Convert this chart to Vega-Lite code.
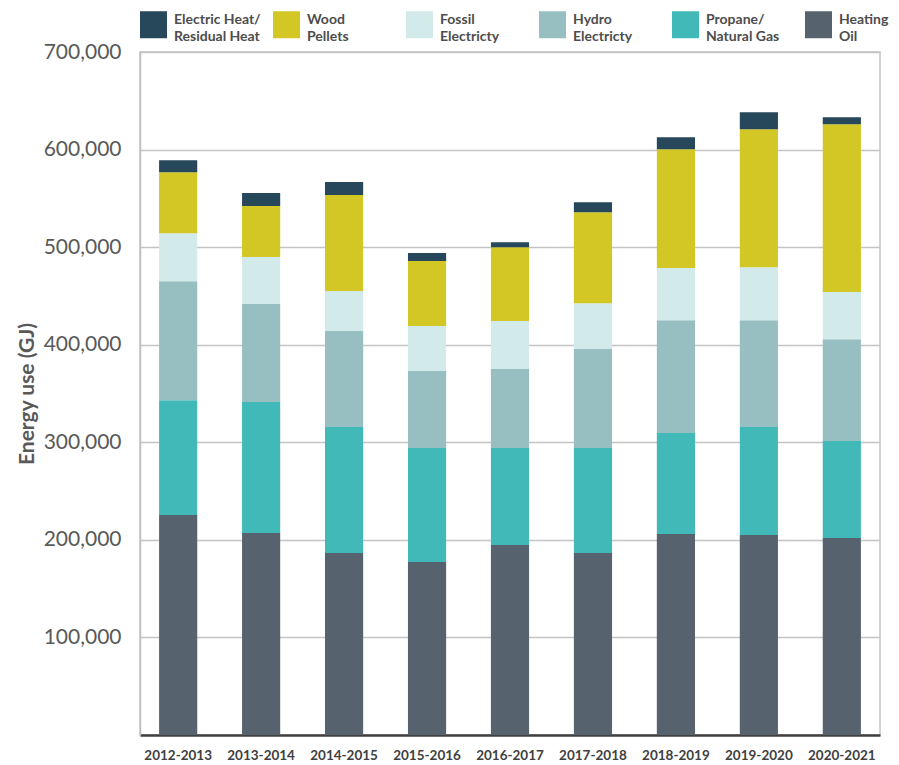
{
  "$schema": "https://vega.github.io/schema/vega-lite/v6.json",
  "width": 740,
  "height": 683,
  "autosize": {"type": "none"},
  "padding": {"left": 140, "top": 52, "right": 19, "bottom": 30},
  "background": "white",
  "config": {"font": "Lato", "view": {"stroke": "#c4c4c4", "strokeWidth": 1.5}},
  "data": {"values": [
    {"year": "2012-2013", "source": "Heating Oil", "value": 225400},
    {"year": "2012-2013", "source": "Propane/Natural Gas", "value": 117800},
    {"year": "2012-2013", "source": "Hydro Electricty", "value": 121900},
    {"year": "2012-2013", "source": "Fossil Electricty", "value": 49200},
    {"year": "2012-2013", "source": "Wood Pellets", "value": 62500},
    {"year": "2012-2013", "source": "Electric Heat/Residual Heat", "value": 12300},
    {"year": "2013-2014", "source": "Heating Oil", "value": 207000},
    {"year": "2013-2014", "source": "Propane/Natural Gas", "value": 134200},
    {"year": "2013-2014", "source": "Hydro Electricty", "value": 100400},
    {"year": "2013-2014", "source": "Fossil Electricty", "value": 48200},
    {"year": "2013-2014", "source": "Wood Pellets", "value": 52300},
    {"year": "2013-2014", "source": "Electric Heat/Residual Heat", "value": 13300},
    {"year": "2014-2015", "source": "Heating Oil", "value": 186500},
    {"year": "2014-2015", "source": "Propane/Natural Gas", "value": 129100},
    {"year": "2014-2015", "source": "Hydro Electricty", "value": 98400},
    {"year": "2014-2015", "source": "Fossil Electricty", "value": 41000},
    {"year": "2014-2015", "source": "Wood Pellets", "value": 98400},
    {"year": "2014-2015", "source": "Electric Heat/Residual Heat", "value": 13300},
    {"year": "2015-2016", "source": "Heating Oil", "value": 177300},
    {"year": "2015-2016", "source": "Propane/Natural Gas", "value": 116800},
    {"year": "2015-2016", "source": "Hydro Electricty", "value": 78900},
    {"year": "2015-2016", "source": "Fossil Electricty", "value": 46100},
    {"year": "2015-2016", "source": "Wood Pellets", "value": 66600},
    {"year": "2015-2016", "source": "Electric Heat/Residual Heat", "value": 8200},
    {"year": "2016-2017", "source": "Heating Oil", "value": 194700},
    {"year": "2016-2017", "source": "Propane/Natural Gas", "value": 99400},
    {"year": "2016-2017", "source": "Hydro Electricty", "value": 80900},
    {"year": "2016-2017", "source": "Fossil Electricty", "value": 49200},
    {"year": "2016-2017", "source": "Wood Pellets", "value": 75800},
    {"year": "2016-2017", "source": "Electric Heat/Residual Heat", "value": 5100},
    {"year": "2017-2018", "source": "Heating Oil", "value": 186500},
    {"year": "2017-2018", "source": "Propane/Natural Gas", "value": 107600},
    {"year": "2017-2018", "source": "Hydro Electricty", "value": 101400},
    {"year": "2017-2018", "source": "Fossil Electricty", "value": 47100},
    {"year": "2017-2018", "source": "Wood Pellets", "value": 93200},
    {"year": "2017-2018", "source": "Electric Heat/Residual Heat", "value": 10200},
    {"year": "2018-2019", "source": "Heating Oil", "value": 205900},
    {"year": "2018-2019", "source": "Propane/Natural Gas", "value": 103500},
    {"year": "2018-2019", "source": "Hydro Electricty", "value": 115800},
    {"year": "2018-2019", "source": "Fossil Electricty", "value": 53300},
    {"year": "2018-2019", "source": "Wood Pellets", "value": 121900},
    {"year": "2018-2019", "source": "Electric Heat/Residual Heat", "value": 12300},
    {"year": "2019-2020", "source": "Heating Oil", "value": 204900},
    {"year": "2019-2020", "source": "Propane/Natural Gas", "value": 110700},
    {"year": "2019-2020", "source": "Hydro Electricty", "value": 109600},
    {"year": "2019-2020", "source": "Fossil Electricty", "value": 54300},
    {"year": "2019-2020", "source": "Wood Pellets", "value": 141400},
    {"year": "2019-2020", "source": "Electric Heat/Residual Heat", "value": 17400},
    {"year": "2020-2021", "source": "Heating Oil", "value": 201800},
    {"year": "2020-2021", "source": "Propane/Natural Gas", "value": 99400},
    {"year": "2020-2021", "source": "Hydro Electricty", "value": 104500},
    {"year": "2020-2021", "source": "Fossil Electricty", "value": 48200},
    {"year": "2020-2021", "source": "Wood Pellets", "value": 172100},
    {"year": "2020-2021", "source": "Electric Heat/Residual Heat", "value": 7200}
  ]},
  "transform": [
    {"calculate": "indexof(['Electric Heat/Residual Heat','Wood Pellets','Fossil Electricty','Hydro Electricty','Propane/Natural Gas','Heating Oil'], datum.source)", "as": "rank"}
  ],
  "mark": {"type": "bar"},
  "encoding": {
    "x": {
      "field": "year", "type": "nominal",
      "scale": {"paddingInner": 0.54, "paddingOuter": 0.23},
      "axis": {
        "title": null, "labelAngle": 0, "labelFontSize": 13.5, "labelFontWeight": "bold",
        "labelColor": "#404040", "labelPadding": 13, "ticks": false,
        "domainColor": "#404040", "domainWidth": 2.5, "grid": false
      }
    },
    "y": {
      "field": "value", "type": "quantitative", "stack": "zero",
      "scale": {"domain": [0, 700000], "nice": false},
      "axis": {
        "title": "Energy use (GJ)", "titleFontSize": 21, "titleFontWeight": "bold",
        "titleColor": "#595959", "titlePadding": 6,
        "values": [100000, 200000, 300000, 400000, 500000, 600000, 700000],
        "format": ",d", "labelFontSize": 21, "labelColor": "#595959", "labelPadding": 19,
        "ticks": false, "domainColor": "#bfbfbf", "domainWidth": 1.5,
        "gridColor": "#c4c4c4", "gridWidth": 1.5
      }
    },
    "color": {
      "field": "source", "type": "nominal",
      "scale": {
        "domain": ["Electric Heat/Residual Heat", "Wood Pellets", "Fossil Electricty", "Hydro Electricty", "Propane/Natural Gas", "Heating Oil"],
        "range": ["#27475a", "#d2c725", "#d3eaeb", "#97bfc1", "#42b9b9", "#56636f"]
      },
      "legend": {
        "title": null, "orient": "none", "legendX": 0, "legendY": -41,
        "direction": "horizontal", "columns": 6, "padding": 0, "gridAlign": "all",
        "symbolType": "square", "symbolSize": 729, "symbolStrokeWidth": 0, "symbolOpacity": 1,
        "labelFontSize": 14, "labelFontWeight": "bold", "labelColor": "#4d4d4d",
        "labelOffset": 7, "columnPadding": 12, "labelLimit": 300,
        "labelExpr": "datum.label == 'Electric Heat/Residual Heat' ? ['Electric Heat/', 'Residual Heat'] : datum.label == 'Propane/Natural Gas' ? ['Propane/', 'Natural Gas'] : split(datum.label, ' ')",
        "encode": {"labels": {"update": {"lineHeight": {"value": 17}, "dy": {"value": -5}}}}
      }
    },
    "order": {"field": "rank", "sort": "descending"}
  }
}
